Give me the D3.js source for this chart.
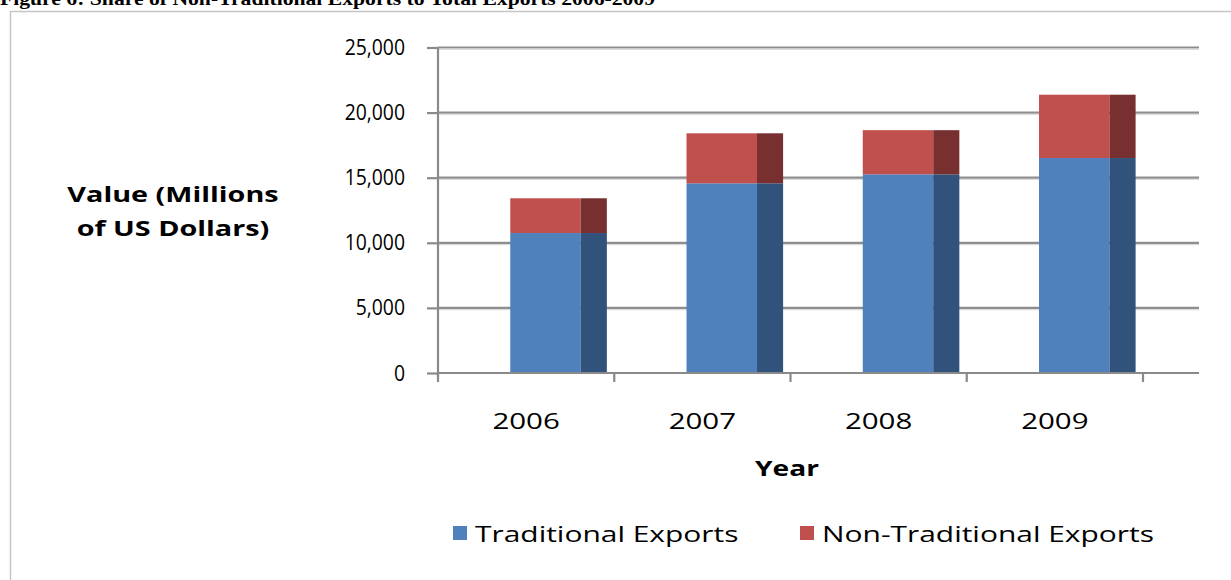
<!DOCTYPE html>
<html>
<head>
<meta charset="utf-8">
<script src="https://cdn.jsdelivr.net/npm/d3@7"></script>
<style>
  html, body { margin: 0; padding: 0; background: #fff; }
  svg { display: block; }
</style>
</head>
<body>
<svg id="chart" width="1231" height="580"></svg>
<script>
// Export values, millions of US dollars
const years = ["2006", "2007", "2008", "2009"];
const traditional = [10750, 14570, 15260, 16510];
const nonTraditional = [2670, 3840, 3390, 4865];
const yTicks = [0, 5000, 10000, 15000, 20000, 25000];
const seriesNames = ["Traditional Exports", "Non-Traditional Exports"];

const frontColors = ["#4f81bd", "#c0504d"];
const sideColors = ["#31527b", "#772f2f"];

const svg = d3.select("#chart");
const labelFont = "'Open Sans', sans-serif";

// Horizontally stretch (or squeeze) a text node by a factor of its natural width
function stretch(sel, factor) {
  sel.each(function () {
    const w = this.getComputedTextLength();
    d3.select(this).attr("textLength", w * factor).attr("lengthAdjust", "spacingAndGlyphs");
  });
}

// Caption above the chart frame
svg.append("text")
  .attr("x", 0).attr("y", 5)
  .attr("font-family", "'Liberation Serif', 'Times New Roman', serif")
  .attr("font-weight", "bold")
  .attr("font-size", 19)
  .attr("textLength", 655).attr("lengthAdjust", "spacingAndGlyphs")
  .text("Figure 6: Share of Non-Traditional Exports to Total Exports 2006-2009");

// Chart frame
svg.append("rect")
  .attr("x", 10.5).attr("y", 11.5)
  .attr("width", 1240).attr("height", 600)
  .attr("fill", "none")
  .attr("stroke", "#c6c6c6")
  .attr("stroke-width", 1.5);

const x = d3.scaleBand().domain(years).range([438, 1143]).padding(0);
const y = d3.scaleLinear().domain([0, 25000]).range([373, 47.5]);
const gridRight = 1199;

// Horizontal gridlines
const grid = svg.append("g");
grid.selectAll("line.g")
  .data(yTicks.filter(d => d > 0))
  .join("line")
  .attr("x1", x.range()[0]).attr("x2", gridRight)
  .attr("y1", d => y(d)).attr("y2", d => y(d))
  .attr("stroke", "#8e8e8e").attr("stroke-width", 2.2);
grid.selectAll("line.s")
  .data(yTicks.filter(d => d > 0))
  .join("line")
  .attr("x1", x.range()[0]).attr("x2", gridRight)
  .attr("y1", d => y(d) + 1.8).attr("y2", d => y(d) + 1.8)
  .attr("stroke", "#dcdcdc").attr("stroke-width", 1.2);

// Stacked bars with a shaded side face
const stacked = years.map((yr, i) => ({
  year: yr,
  parts: [
    { s: 0, y0: 0, y1: traditional[i] },
    { s: 1, y0: traditional[i], y1: traditional[i] + nonTraditional[i] }
  ]
}));
const bw = x.bandwidth();
const frontOff = bw * 0.41, frontW = bw * 0.40, sideW = bw * 0.148;

const barG = svg.append("g");
stacked.forEach(col => {
  col.parts.forEach(p => {
    const x0 = x(col.year) + frontOff;
    barG.append("rect")
      .attr("x", x0).attr("y", y(p.y1))
      .attr("width", frontW).attr("height", y(p.y0) - y(p.y1))
      .attr("fill", frontColors[p.s]);
    barG.append("rect")
      .attr("x", x0 + frontW).attr("y", y(p.y1))
      .attr("width", sideW).attr("height", y(p.y0) - y(p.y1))
      .attr("fill", sideColors[p.s]);
  });
});

// Axes
const yAxis = d3.axisLeft(y).tickValues(yTicks).tickSize(11).tickPadding(22)
  .tickFormat(d3.format(","));
const yG = svg.append("g").attr("transform", `translate(${x.range()[0]},0)`).call(yAxis);
yG.select(".domain").attr("stroke", "#8a8a8a").attr("stroke-width", 2.2)
  .attr("d", `M0,${y(25000)}V${y(0) + 4}`);
yG.selectAll(".tick line").attr("stroke", "#8a8a8a").attr("stroke-width", 2.2);
yG.selectAll(".tick text")
  .attr("font-family", labelFont).attr("font-size", 22).attr("fill", "#000")
  .call(stretch, 0.88);

const xAxis = d3.axisBottom(x).tickSize(0).tickPadding(40);
const xG = svg.append("g").attr("transform", `translate(0,${y(0)})`).call(xAxis);
xG.select(".domain").attr("stroke", "#8a8a8a").attr("stroke-width", 2.2)
  .attr("d", `M${x.range()[0]},0H${gridRight}`);
xG.selectAll(".tick text")
  .attr("font-family", labelFont).attr("font-size", 22).attr("fill", "#000")
  .call(stretch, 1.34);
// Category boundary ticks
xG.selectAll("line.bound")
  .data(years.map(d => x(d)).concat([x.range()[1]]))
  .join("line")
  .attr("x1", d => d).attr("x2", d => d)
  .attr("y1", 0).attr("y2", 9)
  .attr("stroke", "#8a8a8a").attr("stroke-width", 2.2);

// Axis titles
const yTitle = svg.append("text")
  .attr("font-family", labelFont).attr("font-weight", "bold")
  .attr("font-size", 21).attr("text-anchor", "middle");
yTitle.append("tspan").attr("x", 173).attr("y", 202).text("Value (Millions");
yTitle.append("tspan").attr("x", 173).attr("y", 236).text("of US Dollars)");
yTitle.selectAll("tspan").call(stretch, 1.37);

svg.append("text")
  .attr("x", 787).attr("y", 476)
  .attr("font-family", labelFont).attr("font-weight", "bold")
  .attr("font-size", 21).attr("text-anchor", "middle")
  .text("Year")
  .call(stretch, 1.34);

// Legend
const legendX = [453, 800];
const leg = svg.append("g");
seriesNames.forEach((name, i) => {
  leg.append("rect")
    .attr("x", legendX[i]).attr("y", 526)
    .attr("width", 14).attr("height", 14)
    .attr("fill", frontColors[i]);
  leg.append("text")
    .attr("x", legendX[i] + 22).attr("y", 542)
    .attr("font-family", labelFont).attr("font-size", 22)
    .text(name)
    .call(stretch, 1.36);
});
</script>
</body>
</html>
